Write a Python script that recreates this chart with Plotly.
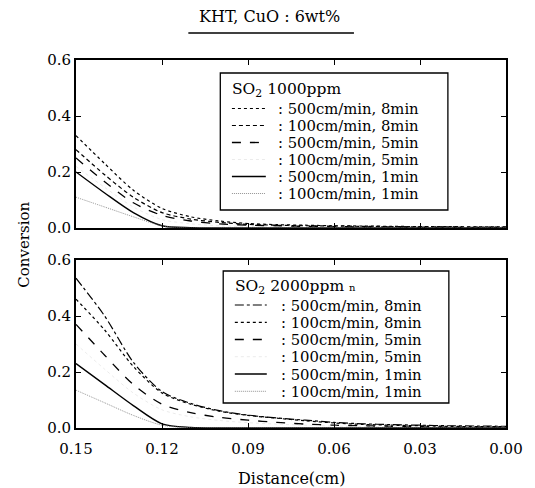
import plotly.graph_objects as go

distance = [0.15, 0.14, 0.13, 0.12, 0.11, 0.10, 0.09, 0.08, 0.07, 0.06, 0.05, 0.04, 0.03, 0.02, 0.01, 0.00]

labels = [": 500cm/min, 8min", ": 100cm/min, 8min", ": 500cm/min, 5min",
          ": 100cm/min, 5min", ": 500cm/min, 1min", ": 100cm/min, 1min"]
legend_titles = ["SO<sub>2</sub> 1000ppm", "SO<sub>2</sub> 2000ppm <span style='font-size:10px'>n</span>"]

# SO2 1000 ppm
p1_500_8 = [0.33, 0.23, 0.135, 0.070, 0.040, 0.025, 0.016, 0.012, 0.010, 0.008, 0.007, 0.006, 0.005, 0.005, 0.004, 0.004]
p1_100_8 = [0.28, 0.19, 0.110, 0.055, 0.032, 0.020, 0.013, 0.010, 0.008, 0.007, 0.006, 0.005, 0.004, 0.004, 0.003, 0.003]
p1_500_5 = [0.25, 0.165, 0.090, 0.045, 0.025, 0.015, 0.010, 0.008, 0.006, 0.005, 0.004, 0.004, 0.003, 0.003, 0.002, 0.002]
p1_100_5 = [0.22, 0.145, 0.075, 0.030, 0.015, 0.008, 0.005, 0.004, 0.003, 0.003, 0.002, 0.002, 0.002, 0.002, 0.002, 0.002]
p1_500_1 = [0.20, 0.125, 0.055, 0.008, 0.001, 0.0, 0.0, 0.0, 0.0, 0.0, 0.0, 0.0, 0.0, 0.0, 0.0, 0.0]
p1_100_1 = [0.11, 0.075, 0.040, 0.008, 0.0, 0.0, 0.0, 0.0, 0.0, 0.0, 0.0, 0.0, 0.0, 0.0, 0.0, 0.0]

# SO2 2000 ppm
p2_500_8 = [0.535, 0.40, 0.235, 0.130, 0.088, 0.062, 0.046, 0.036, 0.028, 0.020, 0.015, 0.012, 0.010, 0.008, 0.007, 0.006]
p2_100_8 = [0.46, 0.35, 0.220, 0.125, 0.085, 0.060, 0.045, 0.035, 0.026, 0.018, 0.013, 0.010, 0.008, 0.006, 0.005, 0.005]
p2_500_5 = [0.37, 0.26, 0.155, 0.085, 0.055, 0.038, 0.028, 0.020, 0.014, 0.010, 0.008, 0.006, 0.005, 0.004, 0.004, 0.004]
p2_100_5 = [0.30, 0.21, 0.125, 0.065, 0.040, 0.027, 0.019, 0.014, 0.010, 0.007, 0.005, 0.004, 0.004, 0.003, 0.003, 0.003]
p2_500_1 = [0.23, 0.155, 0.080, 0.015, 0.002, 0.0, 0.0, 0.0, 0.0, 0.0, 0.0, 0.0, 0.0, 0.0, 0.0, 0.0]
p2_100_1 = [0.135, 0.090, 0.045, 0.010, 0.001, 0.0, 0.0, 0.0, 0.0, 0.0, 0.0, 0.0, 0.0, 0.0, 0.0, 0.0]

x_ticks = [0.15, 0.12, 0.09, 0.06, 0.03, 0.00]
x_ticktext = ["0.15", "0.12", "0.09", "0.06", "0.03", "0.00"]
y_ticks = [0.0, 0.2, 0.4, 0.6]
y_ticktext = ["0.0", "0.2", "0.4", "0.6"]

FONT = "DejaVu Serif"
W, H = 535, 488
ML, MR, MT, MB = 76, 15, 60, 60
PW, PH = W - ML - MR, H - MT - MB


def px(x):
    return (x - ML) / PW


def py(y):
    return (H - MB - y) / PH


styles1 = [
    dict(color="black", width=1.2, dash="dot"),
    dict(color="black", width=1.2, dash="4px,3px"),
    dict(color="black", width=1.3, dash="dash"),
    dict(color="#dedede", width=0.6, dash="dot"),
    dict(color="black", width=1.4, dash="solid"),
    dict(color="#777777", width=0.8, dash="1px,1px"),
]
styles2 = [
    dict(color="black", width=1.2, dash="dashdot"),
    dict(color="black", width=1.2, dash="dot"),
    dict(color="black", width=1.3, dash="dash"),
    dict(color="#dedede", width=0.6, dash="dot"),
    dict(color="black", width=1.4, dash="solid"),
    dict(color="#777777", width=0.8, dash="1px,1px"),
]

series1 = [p1_500_8, p1_100_8, p1_500_5, p1_100_5, p1_500_1, p1_100_1]
series2 = [p2_500_8, p2_100_8, p2_500_5, p2_100_5, p2_500_1, p2_100_1]

fig = go.Figure()
for ys, lab, st in zip(series1, labels, styles1):
    fig.add_trace(go.Scatter(x=distance, y=ys, mode="lines", name=lab,
                             line=dict(shape="spline", smoothing=0.8, **st),
                             xaxis="x", yaxis="y", showlegend=False))
for ys, lab, st in zip(series2, labels, styles2):
    fig.add_trace(go.Scatter(x=distance, y=ys, mode="lines", name=lab,
                             line=dict(shape="spline", smoothing=0.8, **st),
                             xaxis="x2", yaxis="y2", showlegend=False))

axis_common = dict(showline=True, mirror="ticks", linecolor="black", linewidth=1.8,
                   ticks="inside", ticklen=5, tickcolor="black", showgrid=False,
                   zeroline=False, ticklabeloverflow="allow",
                   tickfont=dict(family=FONT, size=15, color="black"))

annotations = [
    dict(text="KHT, CuO : 6wt%", xref="paper", yref="paper", x=px(276), y=py(17),
         xanchor="center", yanchor="middle", showarrow=False,
         font=dict(family=FONT, size=16, color="black")),
    dict(text="Conversion", xref="paper", yref="paper", x=px(22), y=py(245),
         xanchor="center", yanchor="middle", textangle=-90, showarrow=False,
         font=dict(family=FONT, size=15, color="black")),
    dict(text="Distance(cm)", xref="paper", yref="paper", x=px(299), y=py(478),
         xanchor="center", yanchor="middle", showarrow=False,
         font=dict(family=FONT, size=16, color="black")),
]
shapes = [
    dict(type="line", xref="paper", yref="paper", x0=px(192), x1=px(363), y0=py(33), y1=py(33),
         line=dict(color="black", width=1.3)),
]

# manual legends (box, title, sample lines, labels)
legend_specs = [
    dict(box=(225, 73, 460, 210), title_y=90.5, rows=[108.5, 125.5, 142.5, 159.5, 176.5, 193.5],
         sample=(237, 272), text_x=284, styles=styles1, title=legend_titles[0]),
    dict(box=(228, 271, 461, 403), title_y=287, rows=[305, 322.3, 339.5, 356.7, 374, 391.3],
         sample=(240, 273), text_x=287, styles=styles2, title=legend_titles[1]),
]
for spec in legend_specs:
    x0, y0, x1, y1 = spec["box"]
    shapes.append(dict(type="rect", xref="paper", yref="paper", x0=px(x0), x1=px(x1),
                       y0=py(y1), y1=py(y0), line=dict(color="black", width=1.3),
                       fillcolor="white", layer="above"))
    annotations.append(dict(text=spec["title"], xref="paper", yref="paper",
                            x=px(spec["sample"][0] - 1), y=py(spec["title_y"]),
                            xanchor="left", yanchor="middle", showarrow=False, borderpad=0,
                            font=dict(family=FONT, size=15.5, color="black")))
    for ry, lab, st in zip(spec["rows"], labels, spec["styles"]):
        shapes.append(dict(type="line", xref="paper", yref="paper",
                           x0=px(spec["sample"][0]), x1=px(spec["sample"][1]),
                           y0=py(ry), y1=py(ry), layer="above",
                           line=dict(color=st["color"], width=st["width"], dash=st["dash"])))
        annotations.append(dict(text=lab, xref="paper", yref="paper",
                                x=px(spec["text_x"]), y=py(ry),
                                xanchor="left", yanchor="middle", showarrow=False, borderpad=0,
                                font=dict(family=FONT, size=14.8, color="black")))

fig.update_layout(
    width=W, height=H,
    margin=dict(l=ML, r=MR, t=MT, b=MB),
    paper_bgcolor="white", plot_bgcolor="white",
    font=dict(family=FONT, color="black"),
    showlegend=False,
    xaxis=dict(range=[0.15, 0.0], tickvals=x_ticks, ticktext=x_ticktext, showticklabels=False,
               anchor="y", **axis_common),
    yaxis=dict(range=[0, 0.6], tickvals=y_ticks, ticktext=y_ticktext,
               domain=[py(228), 1.0], anchor="x", **axis_common),
    xaxis2=dict(range=[0.15, 0.0], tickvals=x_ticks, ticktext=x_ticktext, anchor="y2",
                ticklabelstandoff=6, **axis_common),
    yaxis2=dict(range=[0, 0.6], tickvals=y_ticks, ticktext=y_ticktext,
                domain=[0.0, py(260)], anchor="x2", **axis_common),
    annotations=annotations,
    shapes=shapes,
)

fig.write_html("out.html")
